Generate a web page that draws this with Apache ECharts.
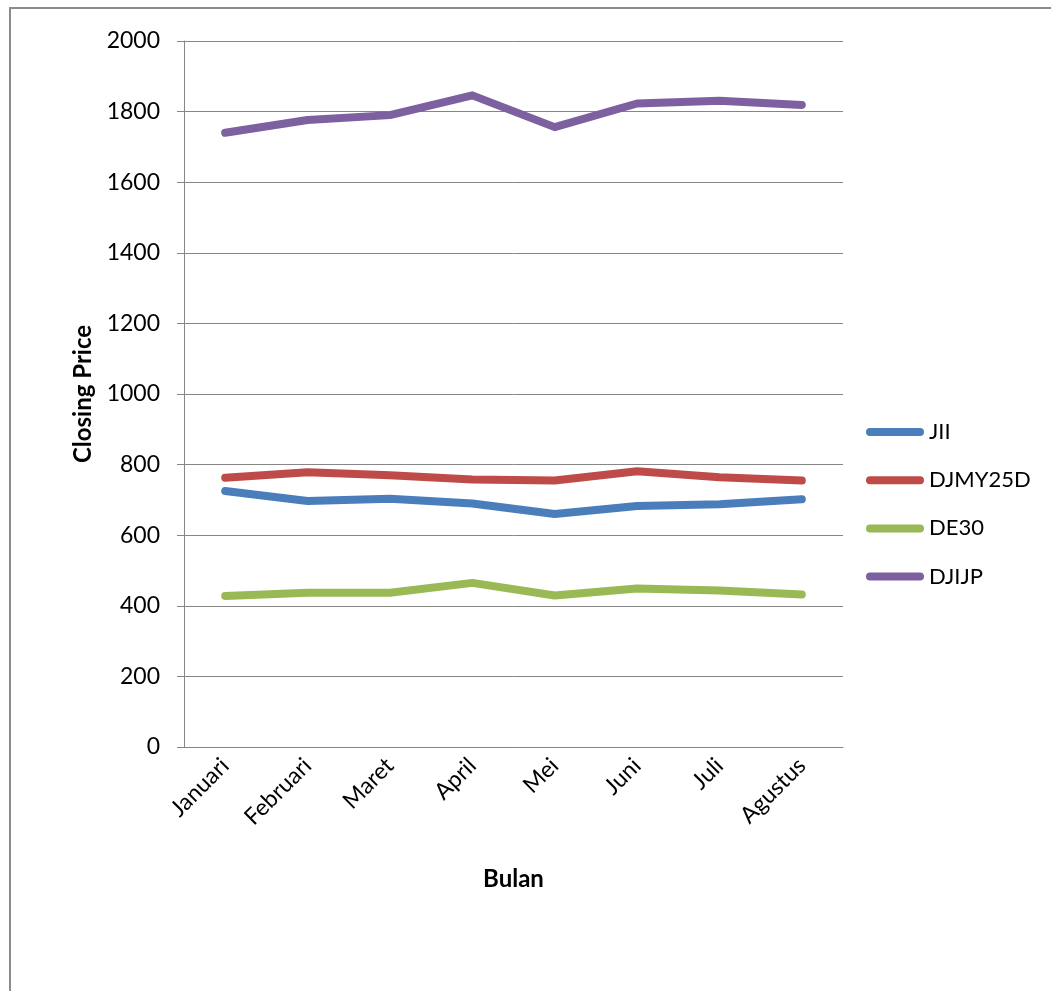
<!DOCTYPE html>
<html>
<head>
<meta charset="utf-8">
<title>Closing Price per Bulan</title>
<script src="https://cdn.jsdelivr.net/npm/echarts@6/dist/echarts.min.js"></script>
<style>
  html, body { margin: 0; padding: 0; background: #ffffff; }
  #chart { width: 1051px; height: 991px; }
</style>
</head>
<body>
<div id="chart"></div>
<script>
// Months on the category axis
const months = ['Januari', 'Februari', 'Maret', 'April', 'Mei', 'Juni', 'Juli', 'Agustus'];

// Closing prices per index
const jii      = [725, 697, 703, 690, 660, 683, 688, 702];
const djmy25d  = [763, 778, 770, 758, 755, 781, 764, 755];
const de30     = [428, 437, 437, 465, 429, 449, 443, 432];
const djijp    = [1740, 1776, 1790, 1846, 1756, 1823, 1831, 1819];

// Value axis ticks
const yMin = 0, yMax = 2000, yStep = 200;

const FONT = 'Lato, "Open Sans", sans-serif';
const AXIS_GREY = '#868686';

const seriesDefs = [
  { name: 'JII',     data: jii,     color: '#4A7EBB' },
  { name: 'DJMY25D', data: djmy25d, color: '#BE4B48' },
  { name: 'DE30',    data: de30,    color: '#98B954' },
  { name: 'DJIJP',   data: djijp,   color: '#7D60A0' }
];

const chart = echarts.init(document.getElementById('chart'), null, { renderer: 'canvas' });

chart.setOption({
  animation: false,
  backgroundColor: '#ffffff',
  textStyle: { fontFamily: FONT },
  graphic: [{
    type: 'rect',
    silent: true,
    shape: { x: 10, y: 8, width: 1200, height: 1200 },
    style: { fill: 'none', stroke: '#8c8c8c', lineWidth: 2 }
  }],
  grid: { left: 184, top: 41, width: 659, height: 706, containLabel: false },
  legend: {
    orient: 'vertical',
    left: 866,
    top: 421,
    padding: 0,
    itemWidth: 58,
    itemHeight: 8,
    itemGap: 26.2,
    icon: 'path://M4,0 H54 A4,4 0 0 1 54,8 H4 A4,4 0 0 1 4,0 Z',
    textStyle: { fontFamily: FONT, fontSize: 22, color: '#000', lineHeight: 20 },
    data: seriesDefs.map(s => s.name)
  },
  xAxis: {
    type: 'category',
    data: months,
    boundaryGap: true,
    name: 'Bulan',
    nameLocation: 'middle',
    nameGap: 120,
    nameTextStyle: { fontFamily: FONT, fontSize: 24, fontWeight: 'bold', color: '#000' },
    axisLine: { lineStyle: { color: AXIS_GREY, width: 1 } },
    axisTick: { show: false },
    axisLabel: { rotate: 45, margin: 15, fontFamily: FONT, fontSize: 23, color: '#000', interval: 0 }
  },
  yAxis: {
    type: 'value',
    min: yMin,
    max: yMax,
    interval: yStep,
    name: 'Closing Price',
    nameLocation: 'middle',
    nameGap: 85,
    nameRotate: 90,
    nameTextStyle: { fontFamily: FONT, fontSize: 24, fontWeight: 'bold', color: '#000' },
    axisLine: { show: true, lineStyle: { color: AXIS_GREY, width: 1 } },
    axisTick: { show: true, length: 7, lineStyle: { color: AXIS_GREY } },
    axisLabel: {
      margin: 24, fontFamily: FONT, fontSize: 23, color: '#000',
      formatter: v => String(v)
    },
    splitLine: { show: true, lineStyle: { color: AXIS_GREY, width: 1 } }
  },
  series: seriesDefs.map(s => ({
    name: s.name,
    type: 'line',
    data: s.data,
    showSymbol: false,
    symbol: 'none',
    color: s.color,
    lineStyle: { color: s.color, width: 8, cap: 'round', join: 'round' }
  }))
});
</script>
</body>
</html>
